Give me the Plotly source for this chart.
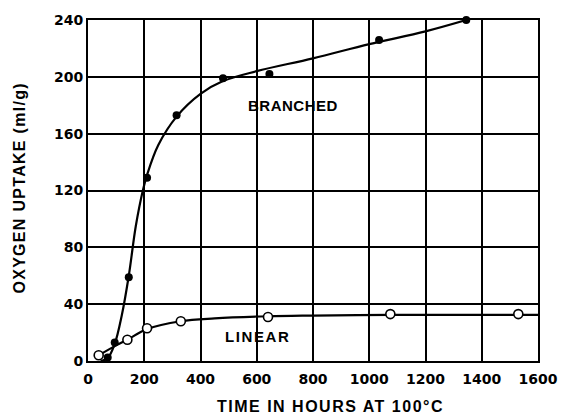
import plotly.graph_objects as go

# Measured oxygen uptake (ml/g) vs. time (h) at 100 °C
branched_t = [70, 95, 145, 210, 315, 480, 645, 1035, 1345]
branched_v = [2.5, 13, 59, 129, 173, 199, 202, 226, 240]
linear_t = [38, 140, 210, 330, 640, 1075, 1530]
linear_v = [4, 15, 23, 28, 31, 33, 33]

# Hand-faired curves through the measurements
branched_curve_t = [45, 70, 95, 120, 145, 170, 195, 210, 250, 315, 400, 480, 600, 800, 1000, 1200, 1345]
branched_curve_v = [0, 2, 12, 32, 60, 95, 120, 131, 152, 172, 188, 197, 204, 213, 223, 232, 240]
linear_curve_t = [38, 100, 140, 210, 330, 450, 640, 800, 1075, 1300, 1530, 1600]
linear_curve_v = [4, 11, 15, 22.5, 28, 30, 31.5, 32, 32.5, 32.5, 32.5, 32.5]

x_ticks = list(range(0, 1601, 200))
y_ticks = list(range(0, 241, 40))

TEXT_FONT = "Liberation Sans"
TICK_FONT = "DejaVu Sans"


def spaced(text, px):
    """Wrap text in a span with extra letter spacing."""
    return f'<span style="letter-spacing:{px}px">{text}</span>'


fig = go.Figure()
fig.add_trace(go.Scatter(x=branched_curve_t, y=branched_curve_v, mode="lines",
                         line=dict(color="black", width=2.2, shape="spline", smoothing=1.0),
                         hoverinfo="skip", cliponaxis=False))
fig.add_trace(go.Scatter(x=linear_curve_t, y=linear_curve_v, mode="lines",
                         line=dict(color="black", width=2.2, shape="spline", smoothing=1.0),
                         hoverinfo="skip"))
fig.add_trace(go.Scatter(x=branched_t, y=branched_v, mode="markers", name="BRANCHED",
                         marker=dict(symbol="circle", size=8, color="black"),
                         cliponaxis=False))
fig.add_trace(go.Scatter(x=linear_t, y=linear_v, mode="markers", name="LINEAR",
                         marker=dict(symbol="circle", size=9, color="white",
                                     line=dict(color="black", width=1.6)),
                         cliponaxis=False))

label_font = dict(family=TEXT_FONT, size=15, color="black", weight="bold")
fig.add_annotation(x=728, y=180, text=spaced("BRANCHED", 0.5), showarrow=False, font=label_font)
fig.add_annotation(x=604, y=17, text=spaced("LINEAR", 1.6), showarrow=False, font=label_font)

# Axis titles placed as free text
title_font = dict(family=TEXT_FONT, size=16, color="black", weight="bold")
fig.add_annotation(xref="paper", yref="paper", x=0.538, y=-0.1345,
                   xanchor="center", yanchor="middle", showarrow=False,
                   text=spaced("TIME IN HOURS AT 100°C", 1.5), font=title_font)
fig.add_annotation(xref="paper", yref="paper", x=-0.153, y=0.509,
                   xanchor="center", yanchor="middle", showarrow=False, textangle=-90,
                   text=spaced("OXYGEN UPTAKE (ml/g)", 1.3), font=title_font)

axis_common = dict(showgrid=True, gridcolor="black", gridwidth=2,
                   showline=True, linecolor="black", linewidth=2, mirror=True,
                   zeroline=False, ticks="",
                   tickfont=dict(family=TICK_FONT, size=14, color="black", weight="bold"))

fig.update_xaxes(range=[0, 1600], tickvals=x_ticks, ticklabelstandoff=4, **axis_common)
fig.update_yaxes(range=[0, 240], tickvals=y_ticks, **axis_common)

fig.update_layout(width=570, height=415, showlegend=False,
                  margin=dict(l=88, r=25, t=19, b=54),
                  plot_bgcolor="white", paper_bgcolor="white")

fig.write_html("out.html")
